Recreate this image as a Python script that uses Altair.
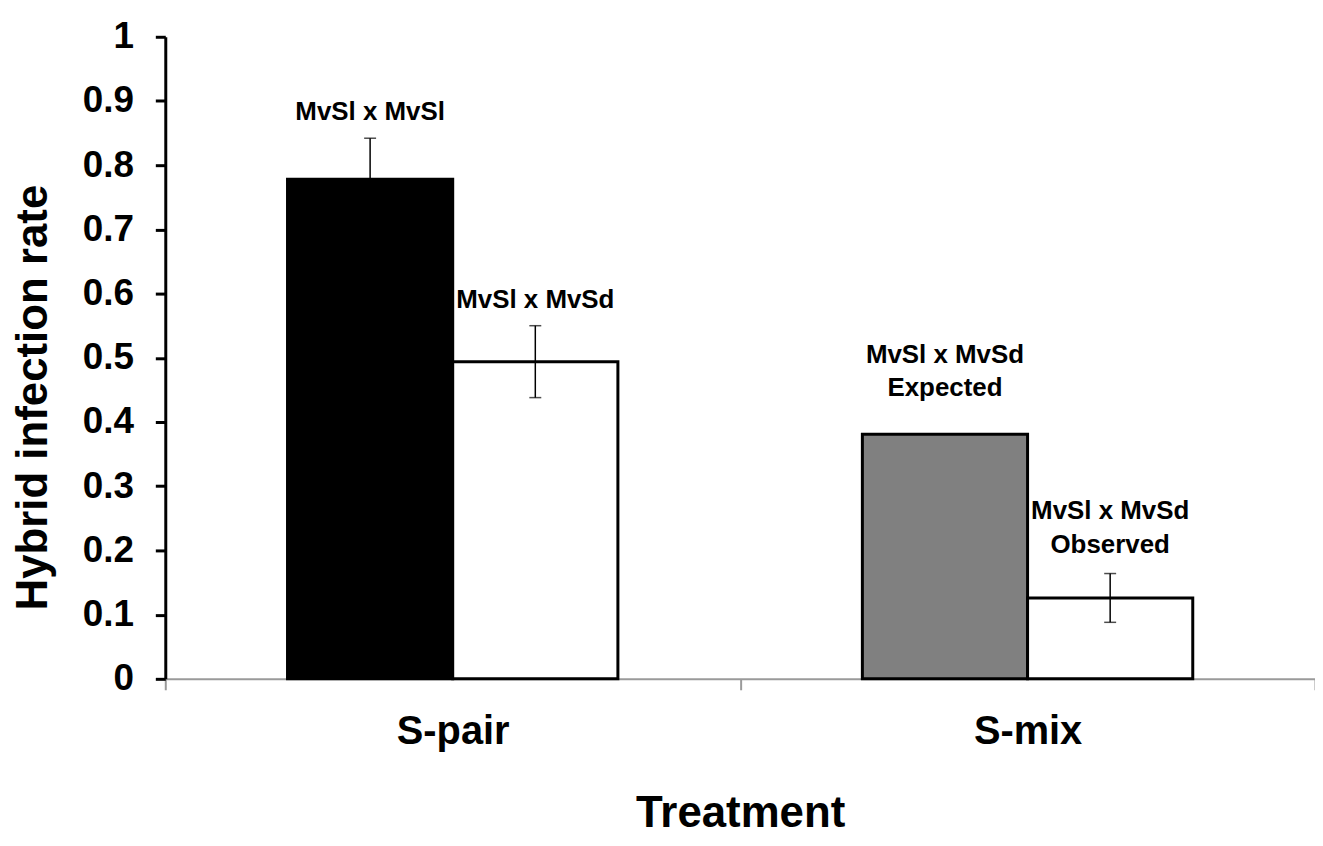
import altair as alt
import pandas as pd

treatments = ["S-pair", "S-pair", "S-mix", "S-mix"]
series = ["MvSl x MvSl", "MvSl x MvSd", "MvSl x MvSd\nExpected", "MvSl x MvSd\nObserved"]
slots = ["a", "b", "a", "b"]
values = [0.778, 0.494, 0.381, 0.126]
errors = [0.064, 0.056, None, 0.038]
colors = ["#000000", "#ffffff", "#808080", "#ffffff"]
y_ticks = [0, 0.1, 0.2, 0.3, 0.4, 0.5, 0.6, 0.7, 0.8, 0.9, 1]

rows = []
for t, s, k, v, e in zip(treatments, series, slots, values, errors):
    rows.append({
        "treatment": t, "series": s, "slot": k, "value": v,
        "lower": None if e is None else v - e,
        "upper": None if e is None else v + e,
        "top": v if e is None else v + e,
        "has_err": e is not None,
        "lines": s.count("\n") + 1,
    })
df = pd.DataFrame(rows)

FONT = "Liberation Sans"
order = ["S-pair", "S-mix"]

x_enc = alt.X("treatment:N", sort=order,
              scale=alt.Scale(paddingInner=0, paddingOuter=0),
              axis=alt.Axis(title="Treatment", labelAngle=0, labelFontSize=40,
                            labelFont=FONT, labelFontWeight="bold", labelColor="black",
                            labelPadding=22, tickBand="extent", tickSize=11,
                            tickColor="#9a9a9a", tickWidth=2, domainColor="#9a9a9a",
                            domainWidth=2, titleFont=FONT, titleFontSize=44,
                            titleFontWeight="bold", titleColor="black",
                            titleY=148, titleBaseline="alphabetic"))
xo_enc = alt.XOffset("slot:N", sort=["a", "b"],
                     scale=alt.Scale(paddingInner=0, paddingOuter=0.74))

y_scale = alt.Scale(domain=[0, 1], nice=False, zero=True)

bars = alt.Chart(df).mark_bar(stroke="black", strokeWidth=3).encode(
    x=x_enc,
    xOffset=xo_enc,
    y=alt.Y("value:Q", scale=y_scale,
            axis=alt.Axis(values=y_ticks, format=".1~f", grid=False,
                          title="Hybrid infection rate", labelFont=FONT,
                          labelFontSize=37, labelFontWeight="bold", labelColor="black",
                          labelPadding=22, tickSize=10, tickWidth=3, tickColor="black",
                          domainColor="black", domainWidth=3, titleFont=FONT,
                          titleFontSize=44, titleFontWeight="bold", titleColor="black",
                          titleX=-119, titleY=362, titleBaseline="alphabetic",
                          titleAlign="center", titleAngle=-90)),
    color=alt.Color("series:N", scale=alt.Scale(domain=series, range=colors), legend=None),
)

xs = alt.X("treatment:N", sort=order)
xos = alt.XOffset("slot:N", sort=["a", "b"])

err_df = alt.Chart(df).transform_filter("datum.has_err")

rules = err_df.mark_rule(color="black", strokeWidth=1.5).encode(
    x=xs, xOffset=xos,
    y=alt.Y("lower:Q", scale=y_scale),
    y2="upper:Q",
)
caps_hi = err_df.mark_tick(color="black", thickness=1.5, size=12).encode(
    x=xs, xOffset=xos, y=alt.Y("upper:Q", scale=y_scale),
)
caps_lo = err_df.mark_tick(color="black", thickness=1.5, size=12).encode(
    x=xs, xOffset=xos, y=alt.Y("lower:Q", scale=y_scale),
)

label_kw = dict(font=FONT, fontSize=26, fontWeight="bold", color="black",
                lineBreak="\n", lineHeight=34, baseline="bottom", align="center")
text_enc = dict(x=xs, xOffset=xos, y=alt.Y("top:Q", scale=y_scale), text="series:N")

labels_one = alt.Chart(df).transform_filter("datum.has_err && datum.lines == 1").mark_text(
    dy=-13, **label_kw).encode(**text_enc)
labels_two = alt.Chart(df).transform_filter("datum.has_err && datum.lines == 2").mark_text(
    dy=-50, **label_kw).encode(**text_enc)
labels_noerr = alt.Chart(df).transform_filter("!datum.has_err").mark_text(
    dy=-67, **label_kw).encode(**text_enc)

chart = alt.layer(bars, rules, caps_hi, caps_lo, labels_one, labels_two, labels_noerr).properties(
    width=1155, height=645,
    autosize=alt.AutoSizeParams(type="none"),
    padding={"left": 158, "top": 27, "right": 0, "bottom": 160},
).configure_view(stroke=None)

chart.save("out.html", embed_options={"renderer": "svg", "actions": False})
